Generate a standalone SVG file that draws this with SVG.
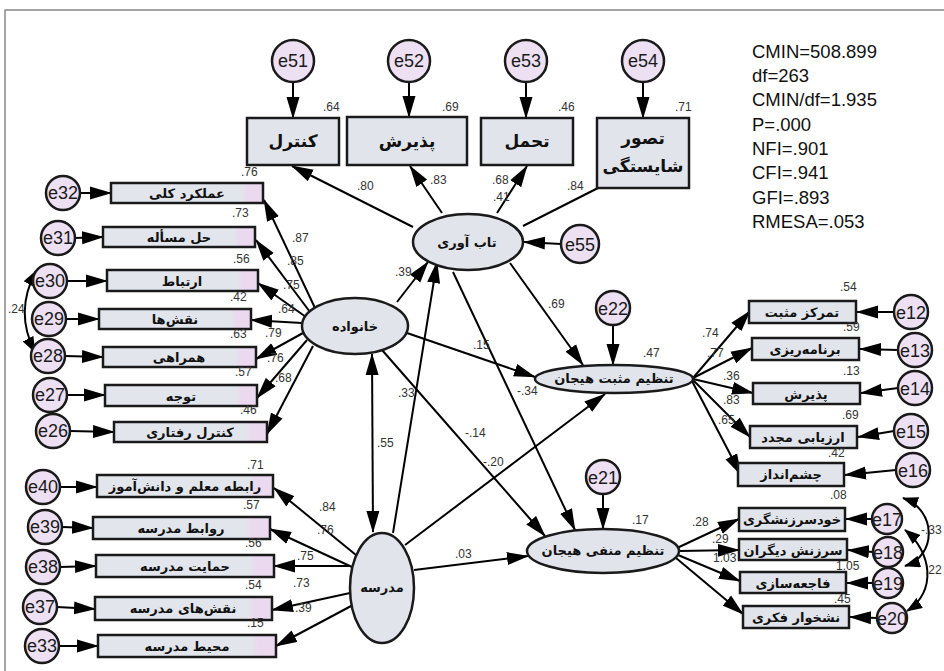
<svg xmlns="http://www.w3.org/2000/svg" width="944" height="671" viewBox="0 0 944 671">
<defs>
<marker id="ah" markerUnits="userSpaceOnUse" markerWidth="22" markerHeight="14" refX="21" refY="7" orient="auto-start-reverse">
<path d="M0,0.5 L22,7 L0,13.5 z" fill="#000"/>
</marker>
<marker id="ahs" markerUnits="userSpaceOnUse" markerWidth="16" markerHeight="12" refX="15" refY="6" orient="auto-start-reverse">
<path d="M0,0 L16,6 L0,12 z" fill="#000"/>
</marker>
<linearGradient id="bg" x1="0" y1="0" x2="1" y2="0">
<stop offset="0" stop-color="#e2e6ec"/>
<stop offset="0.86" stop-color="#e2e6ec"/>
<stop offset="0.9" stop-color="#ead9ef"/>
<stop offset="1" stop-color="#ead9ef"/>
</linearGradient>
<style>
.box{fill:#e1e5eb;stroke:#1a1a1a;stroke-width:2.5}
.gb{fill:url(#bg);stroke:#1a1a1a;stroke-width:2.5}
.lat{fill:#e1e5eb;stroke:#1a1a1a;stroke-width:2.5}
.err{fill:#ede0f2;stroke:#1a1a1a;stroke-width:2.5}
.c{fill:none;stroke:#000;stroke-width:2;marker-end:url(#ah)}
.cv{fill:none;stroke:#000;stroke-width:2;marker-end:url(#ahs);marker-start:url(#ahs)}
.cvb{fill:none;stroke:#000;stroke-width:2;marker-end:url(#ah);marker-start:url(#ah)}
.n{font-family:"Liberation Sans",Arial,sans-serif;font-size:12px;fill:#333}
.et{font-family:"Liberation Sans",Arial,sans-serif;font-size:18px;fill:#1a1a1a;text-anchor:middle}
.fa{font-family:"DejaVu Sans",sans-serif;font-size:13px;font-weight:bold;fill:#111;text-anchor:middle}
.fat{font-family:"DejaVu Sans",sans-serif;font-size:17px;font-weight:bold;fill:#111;text-anchor:middle}
.fit{font-family:"Liberation Sans",Arial,sans-serif;font-size:18.5px;fill:#111}
</style>
</defs>
<rect width="944" height="671" fill="#fff"/>
<path d="M5,671 V10 H944" fill="none" stroke="#888" stroke-width="1.5"/>

<g id="connectors">
<line class="c" x1="293" y1="82" x2="293" y2="118"/>
<line class="c" x1="409" y1="82" x2="409" y2="117"/>
<line class="c" x1="526" y1="82" x2="526" y2="118"/>
<line class="c" x1="643" y1="82" x2="643" y2="118"/>
<line class="c" x1="413" y1="227" x2="292" y2="166"/>
<line class="c" x1="442" y1="213" x2="410" y2="166"/>
<line class="c" x1="497" y1="213" x2="527" y2="166"/>
<line x1="523" y1="226" x2="598" y2="188" stroke="#000" stroke-width="2"/>
<line class="c" x1="561" y1="244" x2="524" y2="242"/>
<line class="c" x1="397" y1="302" x2="428" y2="262"/>
<line class="c" x1="393" y1="533" x2="437" y2="262"/>
<line class="c" x1="510" y1="263" x2="583" y2="365"/>
<line class="c" x1="453" y1="272" x2="575" y2="530"/>
<line class="c" x1="407" y1="333" x2="535" y2="377"/>
<line class="c" x1="382" y1="350" x2="545" y2="536"/>
<line class="cvb" x1="372" y1="354" x2="373" y2="532"/>
<line class="c" x1="405" y1="545" x2="605" y2="394"/>
<line class="c" x1="414" y1="570" x2="528" y2="556"/>
<line class="c" x1="613" y1="325" x2="613" y2="365"/>
<line class="c" x1="603" y1="494" x2="603" y2="529"/>
<line class="c" x1="315" y1="308" x2="264" y2="200"/>
<line class="c" x1="310" y1="312" x2="256" y2="240"/>
<line class="c" x1="306" y1="317" x2="258" y2="283"/>
<line class="c" x1="302" y1="323" x2="251" y2="320"/>
<line class="c" x1="303" y1="333" x2="256" y2="359"/>
<line class="c" x1="307" y1="340" x2="257" y2="398"/>
<line class="c" x1="313" y1="346" x2="267" y2="434"/>
<line class="c" x1="80" y1="193" x2="111" y2="193"/>
<line class="c" x1="75" y1="238" x2="103" y2="237"/>
<line class="c" x1="67" y1="281" x2="107" y2="281"/>
<line class="c" x1="66" y1="319" x2="99" y2="319"/>
<line class="c" x1="65" y1="356" x2="103" y2="357"/>
<line class="c" x1="67" y1="395" x2="105" y2="395"/>
<line class="c" x1="70" y1="431" x2="114" y2="432"/>
<path class="cv" d="M36,271 Q14,312 35,352"/>
<line class="c" x1="356" y1="555" x2="274" y2="488"/>
<line class="c" x1="352" y1="567" x2="270" y2="529"/>
<line class="c" x1="350" y1="566" x2="274" y2="566"/>
<line class="c" x1="350" y1="593" x2="272" y2="610"/>
<line class="c" x1="353" y1="605" x2="276" y2="646"/>
<line class="c" x1="60" y1="487" x2="97" y2="487"/>
<line class="c" x1="62" y1="527" x2="93" y2="528"/>
<line class="c" x1="60" y1="567" x2="96" y2="566"/>
<line class="c" x1="57" y1="607" x2="95" y2="609"/>
<line class="c" x1="59" y1="646" x2="98" y2="646"/>
<line class="c" x1="693" y1="378" x2="750" y2="311"/>
<line class="c" x1="693" y1="378" x2="752" y2="348"/>
<line class="c" x1="693" y1="379" x2="753" y2="393"/>
<line class="c" x1="693" y1="380" x2="750" y2="437"/>
<line class="c" x1="692" y1="381" x2="741" y2="475"/>
<line class="c" x1="894" y1="312" x2="857" y2="312"/>
<line class="c" x1="898" y1="350" x2="860" y2="349"/>
<line class="c" x1="898" y1="388" x2="861" y2="393"/>
<line class="c" x1="894" y1="431" x2="858" y2="437"/>
<line class="c" x1="896" y1="470" x2="845" y2="475"/>
<line class="c" x1="677" y1="548" x2="739" y2="519"/>
<line class="c" x1="679" y1="551" x2="739" y2="550"/>
<line class="c" x1="678" y1="555" x2="740" y2="581"/>
<line class="c" x1="676" y1="558" x2="743" y2="614"/>
<line class="c" x1="872" y1="519" x2="846" y2="519"/>
<line class="c" x1="873" y1="552" x2="848" y2="550"/>
<line class="c" x1="873" y1="583" x2="847" y2="583"/>
<line class="c" x1="877" y1="618" x2="850" y2="617"/>
<path class="cv" d="M903,498 C937,510 937,556 905,566"/>
<path class="cv" d="M905,530 C932,552 937,592 907,611"/>
</g>

<g id="e51"><circle class="err" cx="293" cy="61" r="21"/><text class="et" x="293" y="67" font-size="17">e51</text></g>
<g id="e52"><circle class="err" cx="409" cy="61" r="21"/><text class="et" x="409" y="67" font-size="17">e52</text></g>
<g id="e53"><circle class="err" cx="526" cy="61" r="21"/><text class="et" x="526" y="67" font-size="17">e53</text></g>
<g id="e54"><circle class="err" cx="643" cy="61" r="21"/><text class="et" x="643" y="67" font-size="17">e54</text></g>
<g id="control"><rect class="box" x="247" y="118" width="92" height="47"/><text class="fat" x="293" y="147">کنترل</text></g>
<g id="acceptance1"><rect class="box" x="347" y="117" width="120" height="48"/><text class="fat" x="407" y="147">پذیرش</text></g>
<g id="tolerance"><rect class="box" x="481" y="118" width="92" height="47"/><text class="fat" x="527" y="147">تحمل</text></g>
<g id="competence"><rect class="box" x="597" y="118" width="92" height="70"/><text class="fat" x="643" y="144">تصور</text><text class="fat" x="643" y="172">شایستگی</text></g>

<g id="resilience"><ellipse class="lat" cx="468" cy="242" rx="55" ry="28"/><text class="fa" x="467" y="247" font-size="14">تاب آوری</text></g>
<g id="e55"><circle class="err" cx="580" cy="244" r="19"/><text class="et" x="580" y="251">e55</text></g>
<g id="family"><ellipse class="lat" cx="355" cy="326" rx="53" ry="28"/><text class="fa" x="355" y="331" font-size="14">خانواده</text></g>
<g id="posreg"><ellipse class="lat" cx="614" cy="379" rx="79" ry="14"/><text class="fa" x="614" y="383" font-size="12">تنظیم مثبت هیجان</text></g>
<g id="e22"><circle class="err" cx="613" cy="308" r="17"/><text class="et" x="613" y="315" font-size="20">e22</text></g>
<g id="school"><ellipse class="lat" cx="382" cy="588" rx="32" ry="55"/><text class="fa" x="382" y="592" font-size="13">مدرسه</text></g>
<g id="negreg"><ellipse class="lat" cx="603" cy="551" rx="76" ry="22"/><text class="fa" x="603" y="555" font-size="12">تنظیم منفی هیجان</text></g>
<g id="e21"><circle class="err" cx="603" cy="477" r="17"/><text class="et" x="603" y="484" font-size="20">e21</text></g>

<g id="e32"><circle class="err" cx="63" cy="193" r="17"/><text class="et" x="63" y="199">e32</text></g>
<g id="overall"><rect class="gb" x="111" y="183" width="152" height="20"/><text class="fa" x="187" y="198">عملکرد کلی</text></g>
<g id="e31"><circle class="err" cx="58" cy="238" r="17"/><text class="et" x="58" y="244">e31</text></g>
<g id="problem"><rect class="gb" x="103" y="227" width="152" height="20"/><text class="fa" x="179" y="242">حل مسأله</text></g>
<g id="e30"><circle class="err" cx="50" cy="281" r="17"/><text class="et" x="50" y="287">e30</text></g>
<g id="communication"><rect class="gb" x="107" y="270" width="151" height="21"/><text class="fa" x="182" y="286">ارتباط</text></g>
<g id="e29"><circle class="err" cx="49" cy="319" r="17"/><text class="et" x="49" y="325">e29</text></g>
<g id="roles"><rect class="gb" x="99" y="309" width="152" height="20"/><text class="fa" x="175" y="324">نقش‌ها</text></g>
<g id="e28"><circle class="err" cx="48" cy="356" r="17"/><text class="et" x="48" y="362">e28</text></g>
<g id="companionship"><rect class="gb" x="103" y="347" width="153" height="20"/><text class="fa" x="179" y="362">همراهی</text></g>
<g id="e27"><circle class="err" cx="50" cy="395" r="17"/><text class="et" x="50" y="401">e27</text></g>
<g id="attention"><rect class="gb" x="105" y="385" width="152" height="21"/><text class="fa" x="181" y="401">توجه</text></g>
<g id="e26"><circle class="err" cx="53" cy="431" r="17"/><text class="et" x="53" y="437">e26</text></g>
<g id="behavior"><rect class="gb" x="114" y="422" width="153" height="20"/><text class="fa" x="190" y="437">کنترل رفتاری</text></g>

<g id="e40"><circle class="err" cx="43" cy="487" r="17"/><text class="et" x="43" y="493">e40</text></g>
<g id="teacher"><rect class="gb" x="97" y="475" width="176" height="22"/><text class="fa" x="185" y="491">رابطه معلم و دانش‌آموز</text></g>
<g id="e39"><circle class="err" cx="45" cy="527" r="17"/><text class="et" x="45" y="533">e39</text></g>
<g id="relations"><rect class="gb" x="93" y="517" width="177" height="22"/><text class="fa" x="181" y="533">روابط مدرسه</text></g>
<g id="e38"><circle class="err" cx="43" cy="567" r="17"/><text class="et" x="43" y="573">e38</text></g>
<g id="support"><rect class="gb" x="96" y="555" width="178" height="22"/><text class="fa" x="185" y="571">حمایت مدرسه</text></g>
<g id="e37"><circle class="err" cx="40" cy="607" r="17"/><text class="et" x="40" y="613">e37</text></g>
<g id="schoolroles"><rect class="gb" x="95" y="597" width="177" height="23"/><text class="fa" x="183" y="613">نقش‌های مدرسه</text></g>
<g id="e33"><circle class="err" cx="42" cy="646" r="17"/><text class="et" x="42" y="652">e33</text></g>
<g id="environment"><rect class="gb" x="98" y="635" width="178" height="22"/><text class="fa" x="187" y="651">محیط مدرسه</text></g>

<g id="refocus"><rect class="box" x="749" y="301" width="107" height="22"/><text class="fa" x="802" y="317">تمرکز مثبت</text></g>
<g id="e12"><circle class="err" cx="911" cy="312" r="17"/><text class="et" x="911" y="319" font-size="20">e12</text></g>
<g id="planning"><rect class="box" x="752" y="338" width="107" height="22"/><text class="fa" x="805" y="354">برنامه‌ریزی</text></g>
<g id="e13"><circle class="err" cx="915" cy="350" r="17"/><text class="et" x="915" y="357" font-size="20">e13</text></g>
<g id="acceptance2"><rect class="box" x="753" y="383" width="107" height="21"/><text class="fa" x="806" y="399">پذیرش</text></g>
<g id="e14"><circle class="err" cx="915" cy="388" r="17"/><text class="et" x="915" y="395" font-size="20">e14</text></g>
<g id="reappraisal"><rect class="box" x="750" y="426" width="107" height="22"/><text class="fa" x="803" y="442">ارزیابی مجدد</text></g>
<g id="e15"><circle class="err" cx="911" cy="431" r="17"/><text class="et" x="911" y="438" font-size="20">e15</text></g>
<g id="perspective"><rect class="box" x="738" y="463" width="106" height="23"/><text class="fa" x="791" y="479">چشم‌انداز</text></g>
<g id="e16"><circle class="err" cx="913" cy="470" r="17"/><text class="et" x="913" y="477" font-size="20">e16</text></g>

<g id="selfblame"><rect class="box" x="739" y="508" width="106" height="23"/><text class="fa" x="792" y="524">خودسرزنشگری</text></g>
<g id="e17"><circle class="err" cx="887" cy="519" r="15"/><text class="et" x="887" y="526" font-size="20">e17</text></g>
<g id="otherblame"><rect class="box" x="739" y="539" width="108" height="21"/><text class="fa" x="793" y="555">سرزنش دیگران</text></g>
<g id="e18"><circle class="err" cx="888" cy="552" r="15"/><text class="et" x="888" y="559" font-size="20">e18</text></g>
<g id="catastrophizing"><rect class="box" x="740" y="572" width="106" height="21"/><text class="fa" x="793" y="588">فاجعه‌سازی</text></g>
<g id="e19"><circle class="err" cx="888" cy="583" r="15"/><text class="et" x="888" y="590" font-size="20">e19</text></g>
<g id="rumination"><rect class="box" x="743" y="606" width="106" height="22"/><text class="fa" x="796" y="622">نشخوار فکری</text></g>
<g id="e20"><circle class="err" cx="892" cy="618" r="15"/><text class="et" x="892" y="625" font-size="20">e20</text></g>

<g id="labels">
<text class="n" x="323" y="111">.64</text>
<text class="n" x="442" y="111">.69</text>
<text class="n" x="558" y="111">.46</text>
<text class="n" x="675" y="111">.71</text>
<text class="n" x="241" y="176">.76</text>
<text class="n" x="357" y="190">.80</text>
<text class="n" x="430" y="184">.83</text>
<text class="n" x="492" y="184">.68</text>
<text class="n" x="493" y="201">.41</text>
<text class="n" x="567" y="190">.84</text>
<text class="n" x="232" y="217">.73</text>
<text class="n" x="233" y="263">.56</text>
<text class="n" x="230" y="301">.42</text>
<text class="n" x="230" y="338">.63</text>
<text class="n" x="235" y="376">.57</text>
<text class="n" x="240" y="414">.46</text>
<text class="n" x="292" y="242">.87</text>
<text class="n" x="287" y="265">.85</text>
<text class="n" x="283" y="289">.75</text>
<text class="n" x="278" y="313">.64</text>
<text class="n" x="265" y="337">.79</text>
<text class="n" x="267" y="362">.76</text>
<text class="n" x="275" y="382">.68</text>
<text class="n" x="8" y="313">.24</text>
<text class="n" x="395" y="276">.39</text>
<text class="n" x="548" y="308">.69</text>
<text class="n" x="473" y="349">.15</text>
<text class="n" x="517" y="395">-.34</text>
<text class="n" x="398" y="397">.33</text>
<text class="n" x="465" y="437">-.14</text>
<text class="n" x="643" y="357">.47</text>
<text class="n" x="377" y="447">.55</text>
<text class="n" x="483" y="466">-.20</text>
<text class="n" x="455" y="558">.03</text>
<text class="n" x="632" y="524">.17</text>
<text class="n" x="247" y="469">.71</text>
<text class="n" x="243" y="509">.57</text>
<text class="n" x="245" y="547">.56</text>
<text class="n" x="245" y="589">.54</text>
<text class="n" x="247" y="627">.15</text>
<text class="n" x="319" y="511">.84</text>
<text class="n" x="317" y="534">.76</text>
<text class="n" x="297" y="560">.75</text>
<text class="n" x="293" y="587">.73</text>
<text class="n" x="295" y="612">.39</text>
<text class="n" x="840" y="291">.54</text>
<text class="n" x="843" y="331">.59</text>
<text class="n" x="843" y="375">.13</text>
<text class="n" x="842" y="419">.69</text>
<text class="n" x="828" y="457">.42</text>
<text class="n" x="702" y="337">.74</text>
<text class="n" x="707" y="357">.77</text>
<text class="n" x="723" y="380">.36</text>
<text class="n" x="723" y="404">.83</text>
<text class="n" x="718" y="424">.65</text>
<text class="n" x="830" y="499" font-size="17">.08</text>
<text class="n" x="692" y="526">.28</text>
<text class="n" x="712" y="543">.29</text>
<text class="n" x="713" y="562">1.03</text>
<text class="n" x="836" y="570" font-size="11">1.05</text>
<text class="n" x="834" y="603">.45</text>
<text class="n" x="921" y="534">-.33</text>
<text class="n" x="925" y="574">.22</text>
</g>

<g id="fit">
<text class="fit" x="752" y="58">CMIN=508.899</text>
<text class="fit" x="752" y="82">df=263</text>
<text class="fit" x="752" y="106">CMIN/df=1.935</text>
<text class="fit" x="752" y="131">P=.000</text>
<text class="fit" x="752" y="155">NFI=.901</text>
<text class="fit" x="752" y="179">CFI=.941</text>
<text class="fit" x="752" y="204">GFI=.893</text>
<text class="fit" x="752" y="228">RMESA=.053</text>
</g>
</svg>
